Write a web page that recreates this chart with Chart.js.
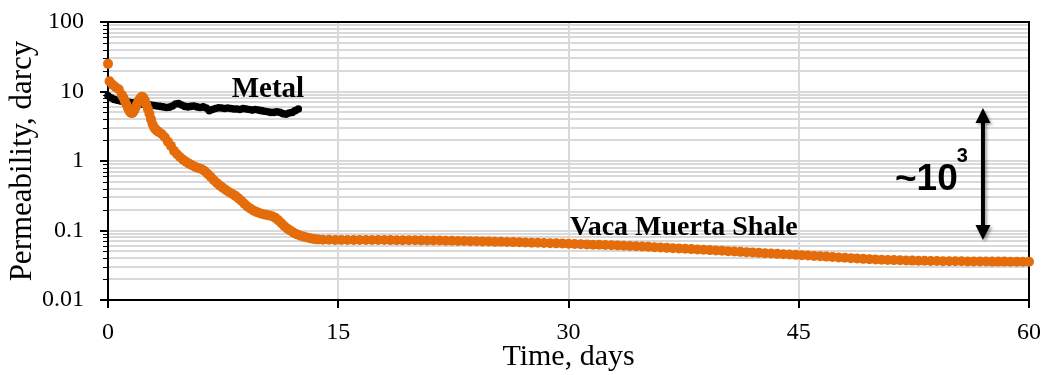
<!DOCTYPE html>
<html>
<head>
<meta charset="utf-8">
<script src="https://cdn.jsdelivr.net/npm/chart.js@4"></script>
<style>
  body { margin: 0; background: #fff; overflow: hidden; }
</style>
</head>
<body>
<canvas id="permChart" width="1047" height="375"></canvas>
<script>
// Metal sample (black)
const metalDays = [0, 0.2, 0.4, 0.6, 0.8, 1.0, 1.2, 1.4, 1.6, 1.8, 2.0, 2.2, 2.4, 2.6, 2.8, 3.0, 3.2, 3.4, 3.6, 3.8,
    4.0, 4.2, 4.4, 4.6, 4.8, 5.0, 5.2, 5.4, 5.6, 5.8, 6.0, 6.2, 6.4, 6.6, 6.8, 7.0, 7.2, 7.4, 7.6, 7.8,
    8.0, 8.2, 8.4, 8.6, 8.8, 9.0, 9.2, 9.4, 9.6, 9.8, 10.0, 10.2, 10.4, 10.6, 10.8, 11.0, 11.2, 11.4, 11.6, 11.8,
    12.0, 12.2, 12.4];
const metalPerm = [8.7, 8.1, 7.7, 7.5, 7.3, 7.2, 7.1, 7.0, 6.9, 6.8, 6.7, 6.6, 6.5, 6.45, 6.4, 6.3, 6.2, 6.1, 6.0, 5.9,
    5.95, 6.2, 6.6, 6.7, 6.4, 6.1, 6.0, 6.1, 6.2, 6.0, 5.9, 6.0, 5.8, 5.3, 5.5, 5.7, 5.85, 5.8, 5.7, 5.8,
    5.7, 5.6, 5.6, 5.5, 5.7, 5.6, 5.5, 5.4, 5.5, 5.4, 5.3, 5.2, 5.1, 5.0, 5.0, 5.1, 5.0, 4.8, 4.7, 4.9,
    5.0, 5.3, 5.6];

// Vaca Muerta shale sample (orange)
const shaleDays = [0, 0.1, 0.3, 0.5, 0.7, 0.9, 1.0, 1.1, 1.2, 1.3, 1.4, 1.5, 1.6, 1.7, 1.8, 1.9, 2.0, 2.1, 2.2, 2.3,
    2.4, 2.5, 2.6, 2.7, 2.8, 2.9, 3.0, 3.1, 3.2, 3.3, 3.5, 3.7,
    3.9, 4.1, 4.3, 4.5, 4.7, 4.9, 5.1, 5.3, 5.5, 5.7, 5.9, 6.1, 6.3, 6.5, 6.7, 6.9, 7.1, 7.3, 7.5, 7.7,
    7.9, 8.1, 8.3, 8.5, 8.7, 8.9, 9.1, 9.3, 9.5, 9.7, 9.9, 10.1, 10.3, 10.5, 10.7, 10.9, 11.1, 11.3, 11.5, 11.7,
    11.9, 12.1, 12.3, 12.5, 12.7, 12.9, 13.1, 13.3, 13.5, 13.7,
    14.0, 14.4, 14.8, 15.2, 15.6, 16.0, 16.4, 16.8, 17.2, 17.6, 18.0, 18.4, 18.8, 19.2, 19.6,
    20.0, 20.4, 20.8, 21.2, 21.6, 22.0, 22.4, 22.8, 23.2, 23.6, 24.0, 24.4, 24.8, 25.2, 25.6,
    26.0, 26.4, 26.8, 27.2, 27.6, 28.0, 28.4, 28.8, 29.2, 29.6, 30.0, 30.4, 30.8, 31.2, 31.6,
    32.0, 32.4, 32.8, 33.2, 33.6, 34.0, 34.4, 34.8, 35.2, 35.6, 36.0, 36.4, 36.8, 37.2, 37.6,
    38.0, 38.4, 38.8, 39.2, 39.6, 40.0, 40.4, 40.8, 41.2, 41.6, 42.0, 42.4, 42.8, 43.2, 43.6,
    44.0, 44.4, 44.8, 45.2, 45.6, 46.0, 46.4, 46.8, 47.2, 47.6, 48.0, 48.4, 48.8, 49.2, 49.6,
    50.0, 50.4, 50.8, 51.2, 51.6, 52.0, 52.4, 52.8, 53.2, 53.6, 54.0, 54.4, 54.8, 55.2, 55.6,
    56.0, 56.4, 56.8, 57.2, 57.6, 58.0, 58.4, 58.8, 59.2, 59.6, 60.0];
const shalePerm = [25, 14, 12.5, 11.5, 10.8, 9.0, 8.2, 7.3, 6.5, 5.8, 5.2, 4.9, 4.9, 5.3, 5.9, 6.6, 7.4, 8.0, 8.4, 8.2,
    7.4, 6.5, 5.6, 4.8, 4.0, 3.4, 3.05, 2.85, 2.72, 2.62, 2.45, 2.2,
    1.9, 1.65, 1.4, 1.25, 1.13, 1.04, 0.97, 0.91, 0.86, 0.82, 0.79, 0.76, 0.72, 0.65, 0.59, 0.53, 0.48, 0.44, 0.41, 0.38,
    0.355, 0.335, 0.315, 0.29, 0.265, 0.24, 0.22, 0.205, 0.193, 0.184, 0.177, 0.172, 0.168, 0.165, 0.16, 0.152, 0.14, 0.127, 0.115, 0.106,
    0.099, 0.093, 0.088, 0.085, 0.082, 0.08, 0.078, 0.076, 0.075, 0.074,
    0.0735, 0.0734, 0.0733, 0.0732, 0.0731, 0.073, 0.073, 0.073, 0.0729, 0.0729, 0.0728, 0.0727, 0.0726, 0.0726, 0.0725,
    0.0723, 0.0721, 0.072, 0.0718, 0.0716, 0.0713, 0.0711, 0.0708, 0.0706, 0.0703, 0.07, 0.0697, 0.0694, 0.069, 0.0687,
    0.0684, 0.0681, 0.0677, 0.0673, 0.0669, 0.0665, 0.0661, 0.0657, 0.0653, 0.0649, 0.0644, 0.064, 0.0635, 0.0631, 0.0626,
    0.0622, 0.0618, 0.0613, 0.0609, 0.0604, 0.0598, 0.0593, 0.0588, 0.0582, 0.0576, 0.0569, 0.0563, 0.0557, 0.0551, 0.0546,
    0.054, 0.0534, 0.0528, 0.0522, 0.0516, 0.051, 0.0504, 0.0499, 0.0493, 0.0488, 0.0482, 0.0477, 0.0472, 0.0466, 0.0461,
    0.0456, 0.0451, 0.0446, 0.0441, 0.0436, 0.0431, 0.0426, 0.0421, 0.0415, 0.041, 0.0405, 0.04, 0.0395, 0.0391, 0.0387,
    0.0383, 0.038, 0.0377, 0.0375, 0.0373, 0.037, 0.0369, 0.0367, 0.0366, 0.0364, 0.0363, 0.0362, 0.0362, 0.0361, 0.036,
    0.0359, 0.0359, 0.0358, 0.0358, 0.0357, 0.0357, 0.0357, 0.0356, 0.0356, 0.0355, 0.0355];

// Axis ticks
const xTicks = [0, 15, 30, 45, 60];
const yTickLabels = ["0.01", "0.1", "1", "10", "100"];
const yDecades = [0.01, 0.1, 1, 10, 100];
const yMinorSteps = [2, 3, 4, 5, 6, 7, 8, 9];

// Annotations (placed in data units)
const notes = [
    { text: "Metal", x: 8.06, y: 8.4, font: 'bold 29px "Liberation Serif"' },
    { text: "Vaca Muerta Shale", x: 30.1, y: 0.086, font: 'bold 28px "Liberation Serif"' },
    { text: "~10", x: 51.27, y: 0.383, font: 'bold 37px "Liberation Sans"' },
    { text: "3", x: 55.3, y: 0.967, font: 'bold 20px "Liberation Sans"' },
];
const arrowSpan = { x: 57.0, top: 5.79, bottom: 0.073 };

const toPoints = (xs, ys) => xs.map((x, i) => ({ x: x, y: ys[i] }));

function isDecade(v) {
    const e = Math.log10(v);
    return Math.abs(e - Math.round(e)) < 1e-6;
}

// y tick values: decades plus the 2..9 steps in between
const yTickValues = [];
yDecades.forEach((d, i) => {
    yTickValues.push(d);
    if (i < yDecades.length - 1) {
        yMinorSteps.forEach(m => yTickValues.push(+(m * d).toPrecision(6)));
    }
});

// frame on top/right + small minor ticks on the y axis
const framePlugin = {
    id: "frame",
    beforeDatasetsDraw(chart) {
        const { ctx, chartArea: a, scales } = chart;
        ctx.save();
        ctx.strokeStyle = "#000";
        ctx.lineWidth = 2;
        ctx.beginPath();
        ctx.moveTo(a.left, a.top);
        ctx.lineTo(a.right, a.top);
        ctx.lineTo(a.right, a.bottom);
        ctx.stroke();
        ctx.lineWidth = 1;
        scales.y.ticks.forEach(t => {
            if (isDecade(t.value)) return;
            const py = Math.round(scales.y.getPixelForValue(t.value)) + 0.5;
            ctx.beginPath();
            ctx.moveTo(a.left - 5, py);
            ctx.lineTo(a.left, py);
            ctx.stroke();
        });
        ctx.restore();
    }
};

const notesPlugin = {
    id: "notes",
    afterDatasetsDraw(chart) {
        const { ctx, scales: { x, y } } = chart;
        ctx.save();
        ctx.fillStyle = "#000";
        ctx.textBaseline = "alphabetic";
        ctx.textAlign = "left";
        notes.forEach(n => {
            ctx.font = n.font;
            ctx.fillText(n.text, x.getPixelForValue(n.x), y.getPixelForValue(n.y));
        });

        // double headed arrow
        const ax = x.getPixelForValue(arrowSpan.x);
        const top = y.getPixelForValue(arrowSpan.top);
        const bot = y.getPixelForValue(arrowSpan.bottom);
        const head = 15, half = 7.5;
        ctx.shadowColor = "rgba(0,0,0,0.35)";
        ctx.shadowBlur = 3;
        ctx.shadowOffsetX = 2;
        ctx.shadowOffsetY = 2;
        ctx.strokeStyle = "#000";
        ctx.lineWidth = 4;
        ctx.beginPath();
        ctx.moveTo(ax, top + head - 2);
        ctx.lineTo(ax, bot - head + 2);
        ctx.stroke();
        ctx.beginPath();
        ctx.moveTo(ax, top);
        ctx.lineTo(ax + half, top + head);
        ctx.lineTo(ax - half, top + head);
        ctx.closePath();
        ctx.moveTo(ax, bot);
        ctx.lineTo(ax + half, bot - head);
        ctx.lineTo(ax - half, bot - head);
        ctx.closePath();
        ctx.fill();
        ctx.restore();
    }
};

const serif = "Liberation Serif";

new Chart(document.getElementById("permChart"), {
    type: "scatter",
    data: {
        datasets: [
            {
                label: "Vaca Muerta Shale",
                data: toPoints(shaleDays, shalePerm),
                backgroundColor: "#E46C0A",
                borderWidth: 0,
                pointRadius: 5,
                showLine: false,
                clip: false,
            },
            {
                label: "Metal",
                data: toPoints(metalDays, metalPerm),
                backgroundColor: "#000",
                borderWidth: 0,
                pointRadius: 3.8,
                showLine: false,
                clip: false,
            },
        ],
    },
    options: {
        responsive: false,
        animation: false,
        layout: { padding: { left: 0, right: 18, top: 22, bottom: 0 } },
        plugins: {
            legend: { display: false },
            tooltip: { enabled: false },
        },
        scales: {
            x: {
                type: "linear",
                min: 0,
                max: 60,
                afterBuildTicks: s => { s.ticks = xTicks.map(v => ({ value: v })); },
                grid: { color: "#d9d9d9", lineWidth: 2, tickColor: "#000", tickLength: 8, tickWidth: 2 },
                border: { color: "#000", width: 2 },
                ticks: { font: { family: serif, size: 24 }, color: "#000", padding: 10, maxRotation: 0 },
                title: {
                    display: true,
                    text: "Time, days",
                    font: { family: serif, size: 30 },
                    color: "#000",
                    padding: { top: 0, bottom: 0 },
                },
                afterFit: s => {
                    s.height = 75;
                    s.paddingLeft = 0;
                    s.paddingRight = 12;
                },
            },
            y: {
                type: "logarithmic",
                min: 0.01,
                max: 100,
                afterBuildTicks: s => { s.ticks = yTickValues.map(v => ({ value: v })); },
                grid: {
                    color: "#d9d9d9",
                    lineWidth: 2,
                    tickLength: 8,
                    tickWidth: 2,
                    tickColor: c => (c.tick && isDecade(c.tick.value) ? "#000" : "rgba(0,0,0,0)"),
                },
                border: { color: "#000", width: 2 },
                ticks: {
                    autoSkip: false,
                    font: { family: serif, size: 24, lineHeight: 0.5 },
                    color: "#000",
                    padding: 16,
                    callback: v => (isDecade(v) ? yTickLabels[Math.round(Math.log10(v)) + 2] : ""),
                },
                title: {
                    display: true,
                    text: "Permeability, darcy",
                    font: { family: serif, size: 31 },
                    color: "#000",
                    padding: { top: 4, bottom: 0 },
                },
                afterFit: s => {
                    s.width = 108;
                    s.paddingTop = 10;
                    s.paddingBottom = 10;
                },
            },
        },
    },
    plugins: [framePlugin, notesPlugin],
});
</script>
</body>
</html>
